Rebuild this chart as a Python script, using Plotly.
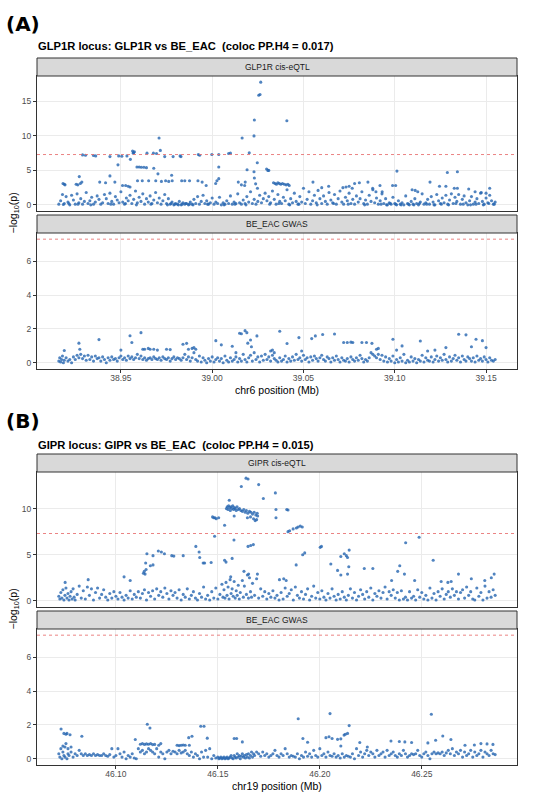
import plotly.graph_objects as go

# genome-wide significance line, -log10(5e-8)
GWS = 7.3

# (position in kb, -log10 p)
glp1r_eqtl_signal = [
    (39026.6, 17.8), (39025.5, 15.9), (39026.2, 16.0), (39023.1, 12.3), (39040.9, 12.2),
    (39022.9, 10.0), (39016.4, 9.7), (38970.9, 9.7),
    (38929.0, 7.25), (38930.6, 7.2), (38935.0, 7.15), (38936.2, 7.1), (38944.0, 7.0),
    (38948.8, 7.1), (38950.5, 7.05), (38953.3, 7.1), (38956.4, 7.8), (38957.0, 7.6),
    (38957.4, 7.7), (38956.8, 7.5), (38964.3, 7.5), (38967.8, 7.5), (38969.5, 7.45),
    (38971.6, 7.9), (38974.0, 7.0), (38978.6, 7.0), (38982.4, 7.1), (38982.9, 7.0),
    (38992.4, 7.3), (38993.1, 7.2), (38999.8, 7.3), (39003.6, 7.3), (39010.0, 7.5),
    (39009.0, 7.45), (39020.3, 7.55),
    (38948.4, 5.8), (38955.2, 6.6), (38958.8, 5.5), (38960.0, 5.5), (38961.2, 5.45),
    (38962.6, 5.45), (38964.0, 5.4), (38968.0, 5.3), (38970.3, 4.5), (38977.8, 4.3),
    (39003.6, 5.5), (39003.6, 3.8), (39019.1, 5.1), (39022.9, 4.8), (39024.7, 6.1),
    (39023.1, 3.9), (39029.8, 5.2), (39030.5, 5.0), (39031.0, 5.0), (39101.2, 4.9),
    (39128.8, 4.7), (39134.3, 4.8),
    (38918.3, 3.1), (38919.0, 3.0), (38919.4, 2.9), (38925.5, 3.0), (38926.4, 2.9),
    (38927.8, 3.1), (38928.6, 3.3), (38927.2, 4.1), (38938.4, 3.3), (38941.6, 3.2),
    (38944.0, 4.2), (38946.7, 3.3), (38950.9, 2.8), (38952.6, 2.8), (38954.0, 2.7),
    (38955.0, 2.6), (38959.1, 3.5), (38961.7, 3.5), (38965.2, 3.5), (38969.1, 3.5),
    (38972.2, 3.4), (38974.5, 3.5), (38976.2, 3.4), (38978.1, 3.5), (38983.3, 3.5),
    (38985.0, 3.5), (38987.6, 3.5), (38992.2, 3.5), (38994.5, 3.3), (38996.7, 2.8),
    (39001.9, 3.1), (39002.6, 3.5), (39014.3, 3.3), (39016.0, 2.9), (39018.1, 3.3),
    (39017.8, 2.8), (39023.8, 3.05), (39024.8, 2.4),
    (39033.6, 3.2), (39034.5, 3.1), (39035.2, 3.0), (39036.0, 3.2), (39036.8, 3.1),
    (39037.6, 3.0), (39038.5, 3.1), (39039.5, 3.0), (39040.5, 2.9), (39041.5, 3.0),
    (39042.2, 2.8), (39055.2, 3.3), (39060.0, 2.5), (39063.8, 2.7), (39071.6, 2.5),
    (39073.3, 2.6), (39075.0, 2.7), (39076.7, 2.4), (39078.0, 3.1), (39080.6, 3.2),
    (39085.3, 3.3), (39087.9, 2.4), (39089.7, 1.9), (39091.9, 2.8), (39093.1, 1.9),
    (39098.8, 2.8), (39100.5, 2.8), (39109.5, 2.2), (39111.2, 2.1), (39112.6, 1.9),
    (39119.3, 3.3), (39124.5, 2.7), (39128.0, 2.7), (39132.6, 2.4), (39134.3, 2.4),
    (39140.5, 2.3), (39144.0, 1.9), (39147.4, 1.8), (39150.0, 1.7), (39152.0, 2.4),
]

glp1r_eqtl_low = [
    (38916, 0.1), (38917, 0.6), (38918, 1.5), (38919, 0.2), (38920, 1.2), (38921, 0.4), (38922, 0.0), (38923, 1.4),
    (38924, 0.7), (38925, 0.1), (38926, 1.6), (38927, 0.3), (38928, 0.9), (38929, 0.1), (38930, 0.5), (38931, 1.8),
    (38932, 0.2), (38933, 0.6), (38934, 1.1), (38935, 0.1), (38936, 0.4), (38937, 1.3), (38938, 0.8), (38939, 0.1),
    (38940, 0.3), (38941, 1.5), (38942, 0.9), (38943, 0.2), (38944, 1.7), (38945, 0.5), (38946, 0.1), (38947, 1.2),
    (38948, 0.7), (38949, 0.3), (38950, 1.9), (38951, 0.4), (38952, 0.1), (38953, 1.0), (38954, 0.6), (38955, 1.4),
    (38956, 0.2), (38957, 0.8), (38958, 2.0), (38959, 0.3), (38960, 1.1), (38961, 0.5), (38962, 1.6), (38963, 0.1),
    (38964, 0.9), (38965, 0.4), (38966, 1.3), (38967, 0.2), (38968, 0.7), (38969, 1.8), (38970, 0.3), (38971, 1.0),
    (38972, 0.1), (38973, 0.6), (38974, 1.5), (38975, 0.2), (38976, 0.9), (38977, 0.1), (38978, 0.4), (38979, 0.0),
    (38980, 0.2), (38981, 0.1), (38982, 0.5), (38983, 0.0), (38984, 0.3), (38985, 0.1), (38986, 0.2), (38987, 0.0),
    (38988, 0.4), (38989, 0.1), (38990, 0.8), (38991, 0.2), (38992, 1.2), (38993, 0.1), (38994, 0.5), (38995, 1.4),
    (38996, 0.2), (38997, 0.6), (38998, 0.1), (38999, 0.3), (39000, 1.0), (39001, 0.1), (39002, 0.4), (39003, 0.2),
    (39004, 1.1), (39005, 0.0), (39006, 0.3), (39007, 0.1), (39008, 0.6), (39009, 0.2), (39010, 1.3), (39011, 0.1),
    (39012, 0.4), (39013, 0.2), (39014, 1.6), (39015, 0.3), (39016, 0.1), (39017, 0.7), (39018, 0.2), (39019, 1.2),
    (39020, 0.4), (39021, 1.9), (39022, 0.2), (39023, 0.8), (39024, 0.1), (39025, 0.5), (39026, 1.4), (39027, 0.3),
    (39028, 0.9), (39029, 1.7), (39030, 0.6), (39031, 1.2), (39032, 0.3), (39033, 2.0), (39034, 0.8), (39035, 0.1),
    (39036, 1.5), (39037, 0.5), (39038, 0.2), (39039, 1.1), (39040, 0.6), (39041, 2.2), (39042, 0.1), (39043, 0.9),
    (39044, 0.3), (39045, 1.7), (39046, 0.5), (39047, 0.1), (39048, 1.2), (39049, 0.4), (39050, 2.4), (39051, 0.2),
    (39052, 0.8), (39053, 1.9), (39054, 0.1), (39055, 0.6), (39056, 1.4), (39057, 0.3), (39058, 2.1), (39059, 0.9),
    (39060, 0.2), (39061, 1.3), (39062, 0.5), (39063, 0.1), (39064, 1.8), (39065, 0.7), (39066, 0.3), (39067, 1.5),
    (39068, 0.1), (39069, 0.9), (39070, 2.0), (39071, 0.4), (39072, 0.1), (39073, 1.1), (39074, 0.6), (39075, 1.7),
    (39076, 0.2), (39077, 0.8), (39078, 0.1), (39079, 1.3), (39080, 0.4), (39081, 0.9), (39082, 1.9), (39083, 0.2),
    (39084, 0.7), (39085, 0.1), (39086, 1.4), (39087, 0.5), (39088, 2.2), (39089, 0.3), (39090, 1.0), (39091, 0.1),
    (39092, 0.6), (39093, 1.6), (39094, 0.2), (39095, 0.9), (39096, 0.0), (39097, 0.3), (39098, 0.1), (39099, 1.1),
    (39100, 0.2), (39101, 0.0), (39102, 0.6), (39103, 0.1), (39104, 0.3), (39105, 0.0), (39106, 1.3), (39107, 0.2),
    (39108, 0.0), (39109, 0.5), (39110, 0.1), (39111, 0.9), (39112, 0.2), (39113, 0.0), (39114, 0.4), (39115, 1.6),
    (39116, 0.1), (39117, 0.3), (39118, 0.8), (39119, 0.1), (39120, 1.2), (39121, 0.4), (39122, 0.0), (39123, 1.5),
    (39124, 0.6), (39125, 0.2), (39126, 1.0), (39127, 0.3), (39128, 1.4), (39129, 0.1), (39130, 0.7), (39131, 1.6),
    (39132, 0.2), (39133, 1.1), (39134, 0.5), (39135, 1.5), (39136, 0.1), (39137, 0.8), (39138, 1.3), (39139, 0.3),
    (39140, 0.0), (39141, 0.6), (39142, 1.2), (39143, 0.1), (39144, 0.4), (39145, 0.9), (39146, 0.2), (39147, 1.7),
    (39148, 0.5), (39149, 0.1), (39150, 1.0), (39151, 0.3), (39152, 1.4), (39153, 0.6), (39154, 0.1), (39155, 0.4),
    (38918.5, 0.05), (38921.5, 0.2), (38926.5, 0.1), (38933.5, 0.0), (38944.5, 0.1), (38952.5, 0.2), (38958.5, 0.0),
    (38966.5, 0.1), (38975.5, 0.0), (38977.5, 0.2), (38979.5, 0.1), (38981.5, 0.0), (38983.5, 0.1), (38985.5, 0.2),
    (38987.5, 0.1), (38989.5, 0.0), (38997.5, 0.1), (39006.5, 0.0), (39012.5, 0.1), (39018.5, 0.0), (39031.5, 0.1),
    (39036.5, 0.2), (39042.5, 0.0), (39047.5, 0.1), (39057.5, 0.0), (39066.5, 0.2), (39074.5, 0.1), (39083.5, 0.0),
    (39092.5, 0.1), (39095.5, 0.0), (39097.5, 0.2), (39100.5, 0.1), (39103.5, 0.0), (39107.5, 0.1), (39110.5, 0.0),
    (39113.5, 0.2), (39117.5, 0.1), (39121.5, 0.0), (39125.5, 0.1), (39129.5, 0.0), (39133.5, 0.2), (39137.5, 0.1),
    (39141.5, 0.0), (39144.5, 0.1), (39148.5, 0.0), (39151.5, 0.2), (39154.5, 0.1),
]

glp1r_gwas_signal = [
    (38919, 0.73), (38927, 1.16), (38927.5, 0.8), (38938, 1.37), (38950, 0.75), (38955, 1.6), (38956, 1.2),
    (38961, 1.78), (38962, 0.8), (38963, 0.8), (38965, 0.85), (38966, 0.8), (38968, 0.8), (38970, 0.75),
    (38975, 0.8), (38977, 0.78), (38984, 1.1), (38986, 1.15), (38987, 0.8), (38989, 0.85), (38990, 0.9),
    (38991, 0.8), (39002, 1.31), (39005, 1.06), (39011, 0.98), (39013, 0.6), (39015, 1.75), (39016, 1.72),
    (39018, 1.9), (39019, 1.78), (39019.5, 1.16), (39021, 1.35), (39024.5, 1.59), (39021.5, 0.95), (39032, 0.7),
    (39033, 0.75), (39034, 0.6), (39037, 1.86), (39041, 1.14), (39047.5, 1.49), (39049, 0.7), (39054.5, 1.43),
    (39056.5, 1.59), (39060.5, 1.67), (39067, 1.7), (39072, 1.2), (39074, 1.2), (39076, 1.22), (39077, 1.2),
    (39082, 1.2), (39084.5, 1.2), (39087.5, 1.15), (39090, 0.8), (39091, 0.85), (39099, 1.39), (39101, 0.75),
    (39104, 1.0), (39114, 1.29), (39118, 0.7), (39122, 0.75), (39128, 0.9), (39135, 1.69), (39139, 1.65),
    (39142, 0.95), (39144.5, 1.39), (39148, 1.31), (39150, 0.9),
]

glp1r_gwas_low = [
    (38916, 0.1), (38916.5, 0.3), (38917, 0.05), (38917.5, 0.2), (38918, 0.4), (38918.5, 0.0), (38919, 0.15),
    (38920, 0.3), (38921, 0.1), (38922, 0.2), (38923, 0.0), (38924, 0.35), (38925, 0.2), (38926, 0.45),
    (38927, 0.3), (38928, 0.5), (38929, 0.25), (38930, 0.4), (38931, 0.15), (38932, 0.45), (38933, 0.2),
    (38934, 0.35), (38935, 0.1), (38936, 0.4), (38937, 0.25), (38938, 0.3), (38939, 0.1), (38940, 0.35),
    (38941, 0.2), (38942, 0.0), (38943, 0.3), (38944, 0.15), (38945, 0.35), (38946, 0.2), (38947, 0.25),
    (38948, 0.1), (38949, 0.3), (38950, 0.4), (38951, 0.2), (38952, 0.3), (38953, 0.15), (38954, 0.4),
    (38955, 0.25), (38956, 0.35), (38957, 0.2), (38958, 0.3), (38959, 0.5), (38960, 0.25), (38961, 0.4),
    (38962, 0.2), (38963, 0.3), (38964, 0.15), (38965, 0.25), (38966, 0.3), (38967, 0.2), (38968, 0.35),
    (38969, 0.25), (38970, 0.2), (38971, 0.3), (38972, 0.15), (38973, 0.35), (38974, 0.25), (38975, 0.2),
    (38976, 0.3), (38977, 0.1), (38978, 0.25), (38979, 0.35), (38980, 0.2), (38981, 0.3), (38982, 0.25),
    (38983, 0.15), (38984, 0.3), (38985, 0.5), (38986, 0.2), (38987, 0.35), (38988, 0.1), (38989, 0.3),
    (38990, 0.6), (38991, 0.2), (38992, 0.1), (38993, 0.4), (38994, 0.05), (38995, 0.3), (38996, 0.15),
    (38997, 0.0), (38998, 0.25), (38999, 0.1), (39000, 0.35), (39001, 0.05), (39002, 0.2), (39003, 0.3),
    (39004, 0.1), (39005, 0.25), (39006, 0.0), (39007, 0.4), (39008, 0.15), (39009, 0.05), (39010, 0.3),
    (39011, 0.1), (39012, 0.2), (39013, 0.35), (39014, 0.05), (39015, 0.25), (39016, 0.1), (39017, 0.5),
    (39018, 0.2), (39019, 0.05), (39020, 0.3), (39021, 0.45), (39022, 0.1), (39023, 0.6), (39024, 0.2),
    (39025, 0.35), (39026, 0.05), (39027, 0.4), (39028, 0.15), (39029, 0.5), (39030, 0.2), (39031, 0.35),
    (39032, 0.1), (39033, 0.45), (39034, 0.25), (39035, 0.15), (39036, 0.05), (39037, 0.3), (39038, 0.1),
    (39039, 0.2), (39040, 0.4), (39041, 0.05), (39042, 0.25), (39043, 0.1), (39044, 0.35), (39045, 0.15),
    (39046, 0.5), (39047, 0.2), (39048, 0.3), (39049, 0.1), (39050, 0.45), (39051, 0.2), (39052, 0.3),
    (39053, 0.05), (39054, 0.35), (39055, 0.15), (39056, 0.4), (39057, 0.25), (39058, 0.1), (39059, 0.3),
    (39060, 0.45), (39061, 0.2), (39062, 0.1), (39063, 0.35), (39064, 0.25), (39065, 0.05), (39066, 0.3),
    (39067, 0.15), (39068, 0.4), (39069, 0.2), (39070, 0.05), (39071, 0.3), (39072, 0.15), (39073, 0.1),
    (39074, 0.25), (39075, 0.05), (39076, 0.35), (39077, 0.2), (39078, 0.1), (39079, 0.3), (39080, 0.15),
    (39081, 0.45), (39082, 0.25), (39083, 0.05), (39084, 0.2), (39085, 0.1), (39086, 0.3), (39087, 0.6),
    (39088, 0.5), (39089, 0.4), (39090, 0.3), (39091, 0.5), (39092, 0.2), (39093, 0.45), (39094, 0.1),
    (39095, 0.35), (39096, 0.05), (39097, 0.25), (39098, 0.1), (39099, 0.4), (39100, 0.0), (39101, 0.2),
    (39102, 0.05), (39103, 0.3), (39104, 0.1), (39105, 0.5), (39106, 0.0), (39107, 0.15), (39108, 0.05),
    (39109, 0.35), (39110, 0.1), (39111, 0.25), (39112, 0.0), (39113, 0.2), (39114, 0.1), (39115, 0.45),
    (39116, 0.05), (39117, 0.3), (39118, 0.15), (39119, 0.1), (39120, 0.35), (39121, 0.05), (39122, 0.2),
    (39123, 0.4), (39124, 0.1), (39125, 0.3), (39126, 0.15), (39127, 0.5), (39128, 0.2), (39129, 0.05),
    (39130, 0.35), (39131, 0.1), (39132, 0.25), (39133, 0.45), (39134, 0.15), (39135, 0.3), (39136, 0.05),
    (39137, 0.4), (39138, 0.2), (39139, 0.1), (39140, 0.35), (39141, 0.25), (39142, 0.1), (39143, 0.3),
    (39144, 0.05), (39145, 0.4), (39146, 0.15), (39147, 0.25), (39148, 0.1), (39149, 0.35), (39150, 0.2),
    (39151, 0.05), (39152, 0.3), (39153, 0.15), (39154, 0.1), (39155, 0.2),
]

gipr_eqtl_signal = [
    (46163.8, 13.3), (46164.8, 13.2), (46161.5, 12.4), (46170.0, 12.6), (46172.3, 11.1), (46178.2, 11.7),
    (46178.5, 9.9), (46178.5, 9.0), (46183.8, 9.9), (46184.4, 9.85), (46155.6, 10.9),
    (46154.2, 10.0), (46154.6, 10.2), (46155.0, 9.9), (46155.3, 10.3), (46155.8, 10.1), (46156.1, 9.8),
    (46156.5, 10.2), (46156.9, 10.0), (46157.3, 10.3), (46157.7, 9.9), (46158.1, 10.1), (46158.5, 10.0),
    (46159.0, 9.8), (46159.4, 10.2), (46160.0, 9.9), (46160.6, 10.0),
    (46161.3, 9.8), (46162.0, 9.7), (46162.7, 9.9), (46163.4, 9.6), (46164.0, 9.8), (46164.7, 9.5),
    (46165.5, 9.7), (46166.2, 9.6), (46167.0, 9.4), (46167.8, 9.6), (46168.6, 9.3), (46169.3, 9.5),
    (46164.5, 9.0), (46166.0, 9.1), (46167.5, 8.9), (46168.3, 8.7), (46169.0, 8.8), (46169.5, 9.2),
    (46147.4, 9.1), (46148.0, 9.0), (46148.6, 9.0), (46149.2, 8.9), (46150.4, 9.0), (46153.3, 8.2), (46158.0, 9.2),
    (46184.4, 7.5), (46185.2, 7.6), (46186.9, 7.8), (46188.5, 7.9), (46189.3, 8.0), (46190.4, 8.1), (46191.4, 8.0),
    (46192.6, 5.2), (46191.6, 5.0), (46188.4, 3.9), (46148.4, 7.0), (46157.9, 6.6), (46164.8, 5.9), (46166.1, 6.0),
    (46167.4, 6.1), (46139.2, 5.9), (46140.8, 5.3), (46141.1, 4.7), (46133.0, 4.9), (46127.4, 4.9), (46128.4, 4.85),
    (46120.8, 5.4), (46122.3, 5.3), (46123.8, 5.1), (46118.2, 4.9), (46115.2, 5.1), (46114.6, 4.1), (46114.8, 3.4),
    (46114.3, 2.9), (46116.9, 3.8), (46118.2, 3.9), (46113.9, 3.2), (46113.5, 3.0),
    (46142.8, 4.1), (46143.5, 4.1), (46146.7, 4.15), (46153.3, 4.4), (46154.0, 4.2), (46157.0, 4.6),
    (46162.8, 3.2), (46165.1, 2.9), (46169.4, 2.9), (46156.3, 2.6), (46180.2, 2.3), (46182.3, 2.4), (46183.5, 2.2),
    (46200.2, 5.8), (46200.8, 5.9), (46205.4, 4.0), (46208.7, 3.3), (46210.3, 2.8), (46210.3, 4.8), (46212.0, 5.1),
    (46213.0, 4.9), (46213.6, 4.7), (46214.4, 5.5), (46213.6, 2.9), (46214.2, 3.7), (46221.8, 3.5), (46226.0, 3.5),
    (46235.2, 2.2), (46238.2, 3.2), (46239.2, 3.8), (46241.5, 2.9), (46242.1, 6.3), (46248.7, 6.9), (46246.5, 2.2),
    (46255.6, 4.4), (46259.5, 2.1), (46262.8, 2.0), (46264.4, 2.1), (46268.0, 2.9), (46274.3, 2.4), (46280.9, 2.2),
    (46284.1, 2.5), (46285.5, 2.9), (46075.1, 2.0), (46086.4, 2.3), (46104.0, 2.6), (46107.0, 2.2),
]

gipr_eqtl_low = [
    (46072, 0.5), (46072.5, 0.2), (46073, 0.9), (46073.5, 0.3), (46074, 1.2), (46074.5, 0.1), (46075, 0.6),
    (46075.5, 1.4), (46076, 0.3), (46076.5, 0.8), (46077, 0.1), (46077.5, 0.5), (46078, 1.0), (46078.5, 0.2),
    (46079, 1.3), (46079.5, 0.4), (46080, 0.1), (46081, 0.7), (46082, 1.6), (46083, 0.3), (46084, 1.1),
    (46085, 0.2), (46086, 1.5), (46087, 0.6), (46088, 1.3), (46089, 0.1), (46090, 0.9), (46091, 1.4),
    (46092, 0.3), (46093, 0.7), (46094, 1.2), (46095, 0.4), (46096, 0.1), (46097, 0.8), (46098, 0.3),
    (46099, 1.0), (46100, 0.5), (46101, 0.2), (46102, 0.9), (46103, 0.4), (46104, 0.1), (46105, 0.6),
    (46106, 0.3), (46107, 1.1), (46108, 0.2), (46109, 0.7), (46110, 0.4), (46111, 1.0), (46112, 0.3),
    (46113, 0.8), (46114, 1.2), (46115, 0.1), (46116, 0.9), (46117, 0.5), (46118, 1.1), (46119, 0.2),
    (46120, 1.3), (46121, 0.6), (46122, 1.0), (46123, 0.4), (46124, 1.4), (46125, 0.8), (46126, 0.2),
    (46127, 1.1), (46128, 0.6), (46129, 0.9), (46130, 0.3), (46131, 1.2), (46132, 0.1), (46133, 0.7),
    (46134, 0.4), (46135, 1.3), (46136, 0.2), (46137, 0.6), (46138, 1.0), (46139, 0.3), (46140, 0.1),
    (46141, 0.8), (46142, 0.4), (46143, 1.5), (46144, 0.2), (46145, 0.6), (46146, 0.1), (46147, 1.0),
    (46148, 0.3), (46149, 1.4), (46150, 0.2), (46151, 0.7), (46152, 1.8), (46152.5, 0.4), (46153, 1.2),
    (46153.5, 0.3), (46154, 2.0), (46154.5, 0.6), (46155, 1.5), (46155.5, 0.2), (46156, 2.3), (46156.5, 0.8),
    (46157, 1.3), (46157.5, 0.5), (46158, 2.1), (46158.5, 0.3), (46159, 1.1), (46159.5, 0.6), (46160, 1.7),
    (46160.5, 0.2), (46161, 0.9), (46162, 2.2), (46162.5, 0.4), (46163, 1.6), (46164, 0.7), (46164.5, 2.8),
    (46165, 0.3), (46165.5, 2.5), (46166, 1.0), (46166.5, 0.4), (46167, 1.9), (46168, 0.6), (46169, 2.4),
    (46170, 0.3), (46171, 1.3), (46172, 0.5), (46173, 1.0), (46174, 0.2), (46175, 0.8), (46176, 0.4),
    (46177, 1.1), (46178, 0.3), (46179, 0.6), (46180, 0.1), (46181, 0.9), (46182, 0.2), (46183, 1.4),
    (46184, 0.5), (46185, 0.8), (46186, 1.2), (46187, 0.1), (46188, 1.5), (46189, 0.6), (46190, 0.3),
    (46191, 1.0), (46192, 0.2), (46193, 0.7), (46194, 1.3), (46195, 0.1), (46196, 0.5), (46197, 1.6),
    (46198, 0.3), (46199, 0.9), (46200, 0.2), (46201, 1.1), (46202, 0.4), (46203, 0.1), (46204, 0.8),
    (46205, 0.3), (46206, 1.3), (46207, 0.5), (46208, 0.1), (46209, 0.7), (46210, 0.2), (46211, 1.0),
    (46212, 0.4), (46213, 0.1), (46214, 0.6), (46215, 1.3), (46216, 0.3), (46217, 0.9), (46218, 0.1),
    (46219, 0.5), (46220, 1.2), (46221, 0.7), (46222, 0.2), (46223, 1.0), (46224, 0.4), (46225, 1.4),
    (46226, 0.1), (46227, 0.8), (46228, 0.5), (46229, 1.1), (46230, 0.3), (46231, 0.9), (46232, 1.5),
    (46233, 0.2), (46234, 1.0), (46235, 0.6), (46236, 1.2), (46237, 0.3), (46238, 0.9), (46239, 0.1),
    (46240, 1.1), (46241, 0.2), (46242, 0.4), (46243, 0.1), (46244, 1.0), (46245, 0.3), (46246, 0.5),
    (46247, 0.1), (46248, 1.2), (46249, 0.4), (46250, 0.9), (46251, 0.2), (46252, 0.6), (46253, 0.1),
    (46254, 1.4), (46255, 0.3), (46256, 0.8), (46257, 0.1), (46258, 1.0), (46259, 0.5), (46260, 1.3),
    (46261, 0.2), (46262, 0.7), (46263, 1.0), (46264, 0.4), (46265, 1.3), (46266, 0.6), (46267, 1.0),
    (46268, 0.2), (46269, 0.9), (46270, 1.2), (46271, 0.3), (46272, 1.5), (46273, 0.6), (46274, 1.0),
    (46275, 0.2), (46276, 0.1), (46277, 1.4), (46278, 0.5), (46279, 0.9), (46280, 0.1), (46281, 1.6),
    (46282, 0.3), (46283, 1.0), (46284, 0.4), (46285, 1.2), (46286, 0.6),
]

gipr_gwas_signal = [
    (46073.1, 1.76), (46074.5, 1.5), (46075.5, 1.45), (46076.0, 1.5), (46077.5, 1.42), (46078.0, 0.7),
    (46074.0, 0.75), (46075.0, 0.7), (46076.5, 0.6), (46083.3, 1.33), (46115.4, 2.04), (46116.7, 1.82),
    (46109.5, 1.14), (46112.0, 0.86), (46113.0, 0.9), (46114.0, 0.85), (46115.0, 0.88), (46116.0, 0.86),
    (46117.0, 0.9), (46118.0, 0.84), (46119.0, 0.85), (46121.0, 0.8), (46122.0, 0.9), (46141.6, 1.92),
    (46143.2, 1.92), (46135.7, 1.25), (46137.3, 1.33), (46130.0, 0.8), (46131.0, 0.78), (46132.0, 0.8),
    (46133.0, 0.82), (46134.0, 0.8), (46136.0, 0.8), (46144.8, 1.22), (46158.0, 1.2), (46159.2, 1.2),
    (46162.0, 1.0), (46189.4, 2.37), (46191.7, 1.2), (46194.0, 0.98), (46205.0, 2.67), (46203.0, 1.25),
    (46204.5, 1.3), (46206.0, 1.2), (46208.7, 1.15), (46210.3, 1.18), (46211.9, 1.4), (46213.6, 1.5),
    (46214.4, 1.96), (46212.5, 1.45), (46210.3, 0.76), (46219.6, 0.96), (46223.3, 0.7), (46234.9, 1.05),
    (46239.0, 1.02), (46241.7, 1.0), (46245.0, 0.96), (46254.7, 2.63), (46253.0, 0.94), (46256.8, 1.1),
    (46260.3, 1.35), (46264.3, 1.14), (46271.2, 0.8), (46275.8, 0.82), (46279.0, 0.9), (46282.0, 0.88),
    (46284.9, 0.85),
]

gipr_gwas_low = [
    (46072, 0.3), (46072.5, 0.1), (46073, 0.6), (46073.5, 0.0), (46074, 0.4), (46074.5, 0.2), (46075, 0.1),
    (46075.5, 0.9), (46076, 0.0), (46076.5, 0.3), (46077, 0.2), (46078, 0.4), (46079, 0.1), (46080, 0.3),
    (46081, 0.2), (46082, 0.5), (46083, 0.3), (46084, 0.2), (46085, 0.3), (46086, 0.2), (46087, 0.25),
    (46088, 0.2), (46089, 0.3), (46090, 0.2), (46091, 0.25), (46092, 0.2), (46093, 0.2), (46094, 0.3),
    (46095, 0.2), (46096, 0.15), (46097, 0.25), (46098, 0.6), (46099, 0.1), (46100, 0.2), (46101, 0.6),
    (46102, 0.3), (46103, 0.1), (46104, 0.4), (46105, 0.0), (46106, 0.2), (46107, 0.1), (46108, 0.3),
    (46109, 0.05), (46110, 0.0), (46111, 0.6), (46112, 0.4), (46113, 0.5), (46114, 0.3), (46115, 0.4),
    (46116, 0.6), (46117, 0.5), (46118, 0.4), (46119, 0.3), (46120, 0.6), (46121, 0.1), (46122, 0.4),
    (46123, 0.3), (46124, 0.0), (46125, 0.4), (46126, 0.5), (46127, 0.3), (46128, 0.45), (46129, 0.4),
    (46130, 0.3), (46131, 0.5), (46132, 0.35), (46133, 0.4), (46134, 0.5), (46135, 0.3), (46136, 0.2),
    (46137, 0.4), (46138, 0.1), (46139, 0.3), (46140, 0.2), (46141, 0.0), (46142, 0.4), (46143, 0.1),
    (46144, 0.5), (46145, 0.1), (46146, 0.6), (46147, 0.0), (46148, 0.2), (46149, 0.05), (46150, 0.1),
    (46150.5, 0.0), (46151, 0.05), (46151.5, 0.1), (46152, 0.0), (46152.5, 0.05), (46153, 0.1), (46153.5, 0.0),
    (46154, 0.05), (46154.5, 0.1), (46155, 0.0), (46155.5, 0.05), (46156, 0.1), (46156.5, 0.2), (46157, 0.05),
    (46157.5, 0.0), (46158, 0.2), (46158.5, 0.1), (46159, 0.05), (46159.5, 0.3), (46160, 0.1), (46160.5, 0.2),
    (46161, 0.0), (46161.5, 0.15), (46162, 0.3), (46162.5, 0.1), (46163, 0.2), (46163.5, 0.05), (46164, 0.25),
    (46164.5, 0.1), (46165, 0.3), (46165.5, 0.05), (46166, 0.2), (46166.5, 0.4), (46167, 0.1), (46167.5, 0.3),
    (46168, 0.2), (46169, 0.4), (46170, 0.3), (46171, 0.15), (46172, 0.4), (46173, 0.2), (46174, 0.3),
    (46175, 0.1), (46176, 0.2), (46177, 0.3), (46178, 0.5), (46179, 0.2), (46180, 0.1), (46181, 0.3),
    (46182, 0.2), (46183, 0.6), (46184, 0.3), (46185, 0.1), (46186, 0.2), (46187, 0.15), (46188, 0.1),
    (46189, 0.3), (46190, 0.0), (46191, 0.2), (46192, 0.1), (46193, 0.4), (46194, 0.15), (46195, 0.3),
    (46196, 0.1), (46197, 0.5), (46198, 0.2), (46199, 0.1), (46200, 0.6), (46201, 0.2), (46202, 0.3),
    (46203, 0.1), (46204, 0.4), (46205, 0.2), (46206, 0.15), (46207, 0.3), (46208, 0.1), (46209, 0.2),
    (46210, 0.05), (46211, 0.3), (46212, 0.1), (46213, 0.2), (46214, 0.15), (46215, 0.1), (46216, 0.3),
    (46217, 0.0), (46218, 0.6), (46219, 0.2), (46220, 0.4), (46221, 0.1), (46222, 0.3), (46223, 0.5),
    (46224, 0.2), (46225, 0.4), (46226, 0.3), (46227, 0.1), (46228, 0.5), (46229, 0.2), (46230, 0.3),
    (46231, 0.4), (46232, 0.1), (46233, 0.5), (46234, 0.2), (46235, 0.3), (46236, 0.4), (46237, 0.2),
    (46238, 0.1), (46239, 0.3), (46240, 0.2), (46241, 0.5), (46242, 0.3), (46243, 0.1), (46244, 0.2),
    (46245, 0.3), (46246, 0.25), (46247, 0.3), (46248, 0.5), (46249, 0.2), (46250, 0.1), (46251, 0.3),
    (46252, 0.4), (46253, 0.2), (46254, 0.0), (46255, 0.3), (46256, 0.4), (46257, 0.3), (46258, 0.35),
    (46259, 0.3), (46260, 0.4), (46261, 0.2), (46262, 0.35), (46263, 0.5), (46264, 0.3), (46265, 0.6),
    (46266, 0.2), (46267, 0.4), (46268, 0.3), (46269, 0.5), (46270, 0.1), (46271, 0.4), (46272, 0.2),
    (46273, 0.3), (46274, 0.5), (46275, 0.1), (46276, 0.4), (46277, 0.2), (46278, 0.3), (46279, 0.5),
    (46280, 0.1), (46281, 0.4), (46282, 0.3), (46283, 0.2), (46284, 0.5), (46285, 0.3), (46286, 0.25),
]

loci = [
    dict(tag="(A)", title="GLP1R locus: GLP1R vs BE_EAC\u00a0\u00a0(coloc PP.H4 = 0.017)",
         xlabel="chr6 position (Mb)",
         panels=[("GLP1R cis-eQTL", glp1r_eqtl_low + glp1r_eqtl_signal, 5),
                 ("BE_EAC GWAS", glp1r_gwas_low + glp1r_gwas_signal, 2)]),
    dict(tag="(B)", title="GIPR locus: GIPR vs BE_EAC\u00a0\u00a0(coloc PP.H4 = 0.015)",
         xlabel="chr19 position (Mb)",
         panels=[("GIPR cis-eQTL", gipr_eqtl_low + gipr_eqtl_signal, 5),
                 ("BE_EAC GWAS", gipr_gwas_low + gipr_gwas_signal, 2)]),
]

# pixel layout of each locus block
W, H = 550, 796
block_top = [0, 396]
panel_boxes = [(76, 211), (233, 369)]   # plot-area top/bottom within a block
strip_h = 18
left, right = 37, 517
tag_y = [24, 421]
title_y = [46, 445]
xlab_y = [390, 786]

FONT = "Liberation Sans, Arial, sans-serif"
DOT = "rgba(38,101,176,0.8)"


def fx(p):
    return p / W


def fy(p):
    return 1 - p / H


def expand(lo, hi, f=0.05):
    d = (hi - lo) * f
    return [lo - d, hi + d]


fig = go.Figure()
shapes, annots = [], []
n = 0
for b, locus in enumerate(loci):
    off = block_top[b]
    allx = [p[0] / 1000 for _, pts, _ in locus["panels"] for p in pts]
    xr = expand(min(allx), max(allx))
    for k, (strip, pts, dt) in enumerate(locus["panels"]):
        n += 1
        sfx = "" if n == 1 else str(n)
        top, bot = panel_boxes[k][0] + off, panel_boxes[k][1] + off
        xs = [p[0] / 1000 for p in pts]
        ys = [p[1] for p in pts]
        fig.add_trace(go.Scatter(x=xs, y=ys, mode="markers", xaxis="x" + sfx, yaxis="y" + sfx,
                                 marker=dict(size=3.1, color=DOT, line_width=0), showlegend=False))
        last = k == len(locus["panels"]) - 1
        fig.update_layout(**{
            "xaxis" + sfx: dict(domain=[fx(left), fx(right)], anchor="y" + sfx, range=xr,
                                dtick=0.05, tick0=0, tickformat=".2f", showticklabels=last,
                                ticks="outside" if last else "", ticklen=3, tickcolor="#333333",
                                ticklabelstandoff=-2,
                                tickfont=dict(family=FONT, size=8.5, color="#4D4D4D"),
                                showgrid=True, gridcolor="#EBEBEB", gridwidth=1, zeroline=False,
                                showline=True, mirror=True, linecolor="#333333", linewidth=1),
            "yaxis" + sfx: dict(domain=[fy(bot), fy(top)], anchor="x" + sfx,
                                range=expand(0, max(max(ys), GWS)), dtick=dt, tick0=0,
                                ticks="outside", ticklen=3, tickcolor="#333333",
                                tickfont=dict(family=FONT, size=8.5, color="#4D4D4D"),
                                showgrid=True, gridcolor="#EBEBEB", gridwidth=1, zeroline=False,
                                showline=True, mirror=True, linecolor="#333333", linewidth=1),
        })
        shapes.append(dict(type="line", xref="x%s domain" % sfx, yref="y" + sfx, x0=0, x1=1,
                           y0=GWS, y1=GWS, line=dict(color="rgba(232,110,110,0.85)", width=1, dash="dot")))
        shapes.append(dict(type="rect", xref="paper", yref="paper", x0=fx(left), x1=fx(right),
                           y0=fy(top), y1=fy(top - strip_h), fillcolor="#D9D9D9",
                           line=dict(color="#333333", width=1)))
        annots.append(dict(text=strip, xref="paper", yref="paper", x=fx((left + right) / 2),
                           y=fy(top - strip_h / 2), showarrow=False, xanchor="center", yanchor="middle",
                           font=dict(family=FONT, size=8.5, color="#1A1A1A")))
    annots.append(dict(text=locus["tag"], xref="paper", yref="paper", x=fx(4), y=fy(tag_y[b]),
                       showarrow=False, xanchor="left", yanchor="middle",
                       font=dict(family="DejaVu Sans", size=20, color="black", weight="bold")))
    annots.append(dict(text="<b>%s</b>" % locus["title"], xref="paper", yref="paper", x=fx(36),
                       y=fy(title_y[b]), showarrow=False, xanchor="left", yanchor="middle",
                       font=dict(family=FONT, size=11.2, color="black")))
    annots.append(dict(text="\u2212log<sub>10</sub>(p)", xref="paper", yref="paper", x=fx(13),
                       y=fy(off + (panel_boxes[0][0] - strip_h + panel_boxes[1][1]) / 2),
                       textangle=-90, showarrow=False, xanchor="center", yanchor="middle",
                       font=dict(family=FONT, size=10.5, color="black")))
    annots.append(dict(text=locus["xlabel"], xref="paper", yref="paper", x=fx((left + right) / 2),
                       y=fy(xlab_y[b]), showarrow=False, xanchor="center", yanchor="middle",
                       font=dict(family=FONT, size=10.5, color="black")))

fig.update_layout(width=W, height=H, margin=dict(l=0, r=0, t=0, b=0),
                  paper_bgcolor="white", plot_bgcolor="white",
                  shapes=shapes, annotations=annots, font=dict(family=FONT))

# the page body has a default 8px margin; drop it so the figure sits at the window origin
fig.write_html("out.html", config={"displayModeBar": False},
               post_script="document.body.style.margin='0px';")
